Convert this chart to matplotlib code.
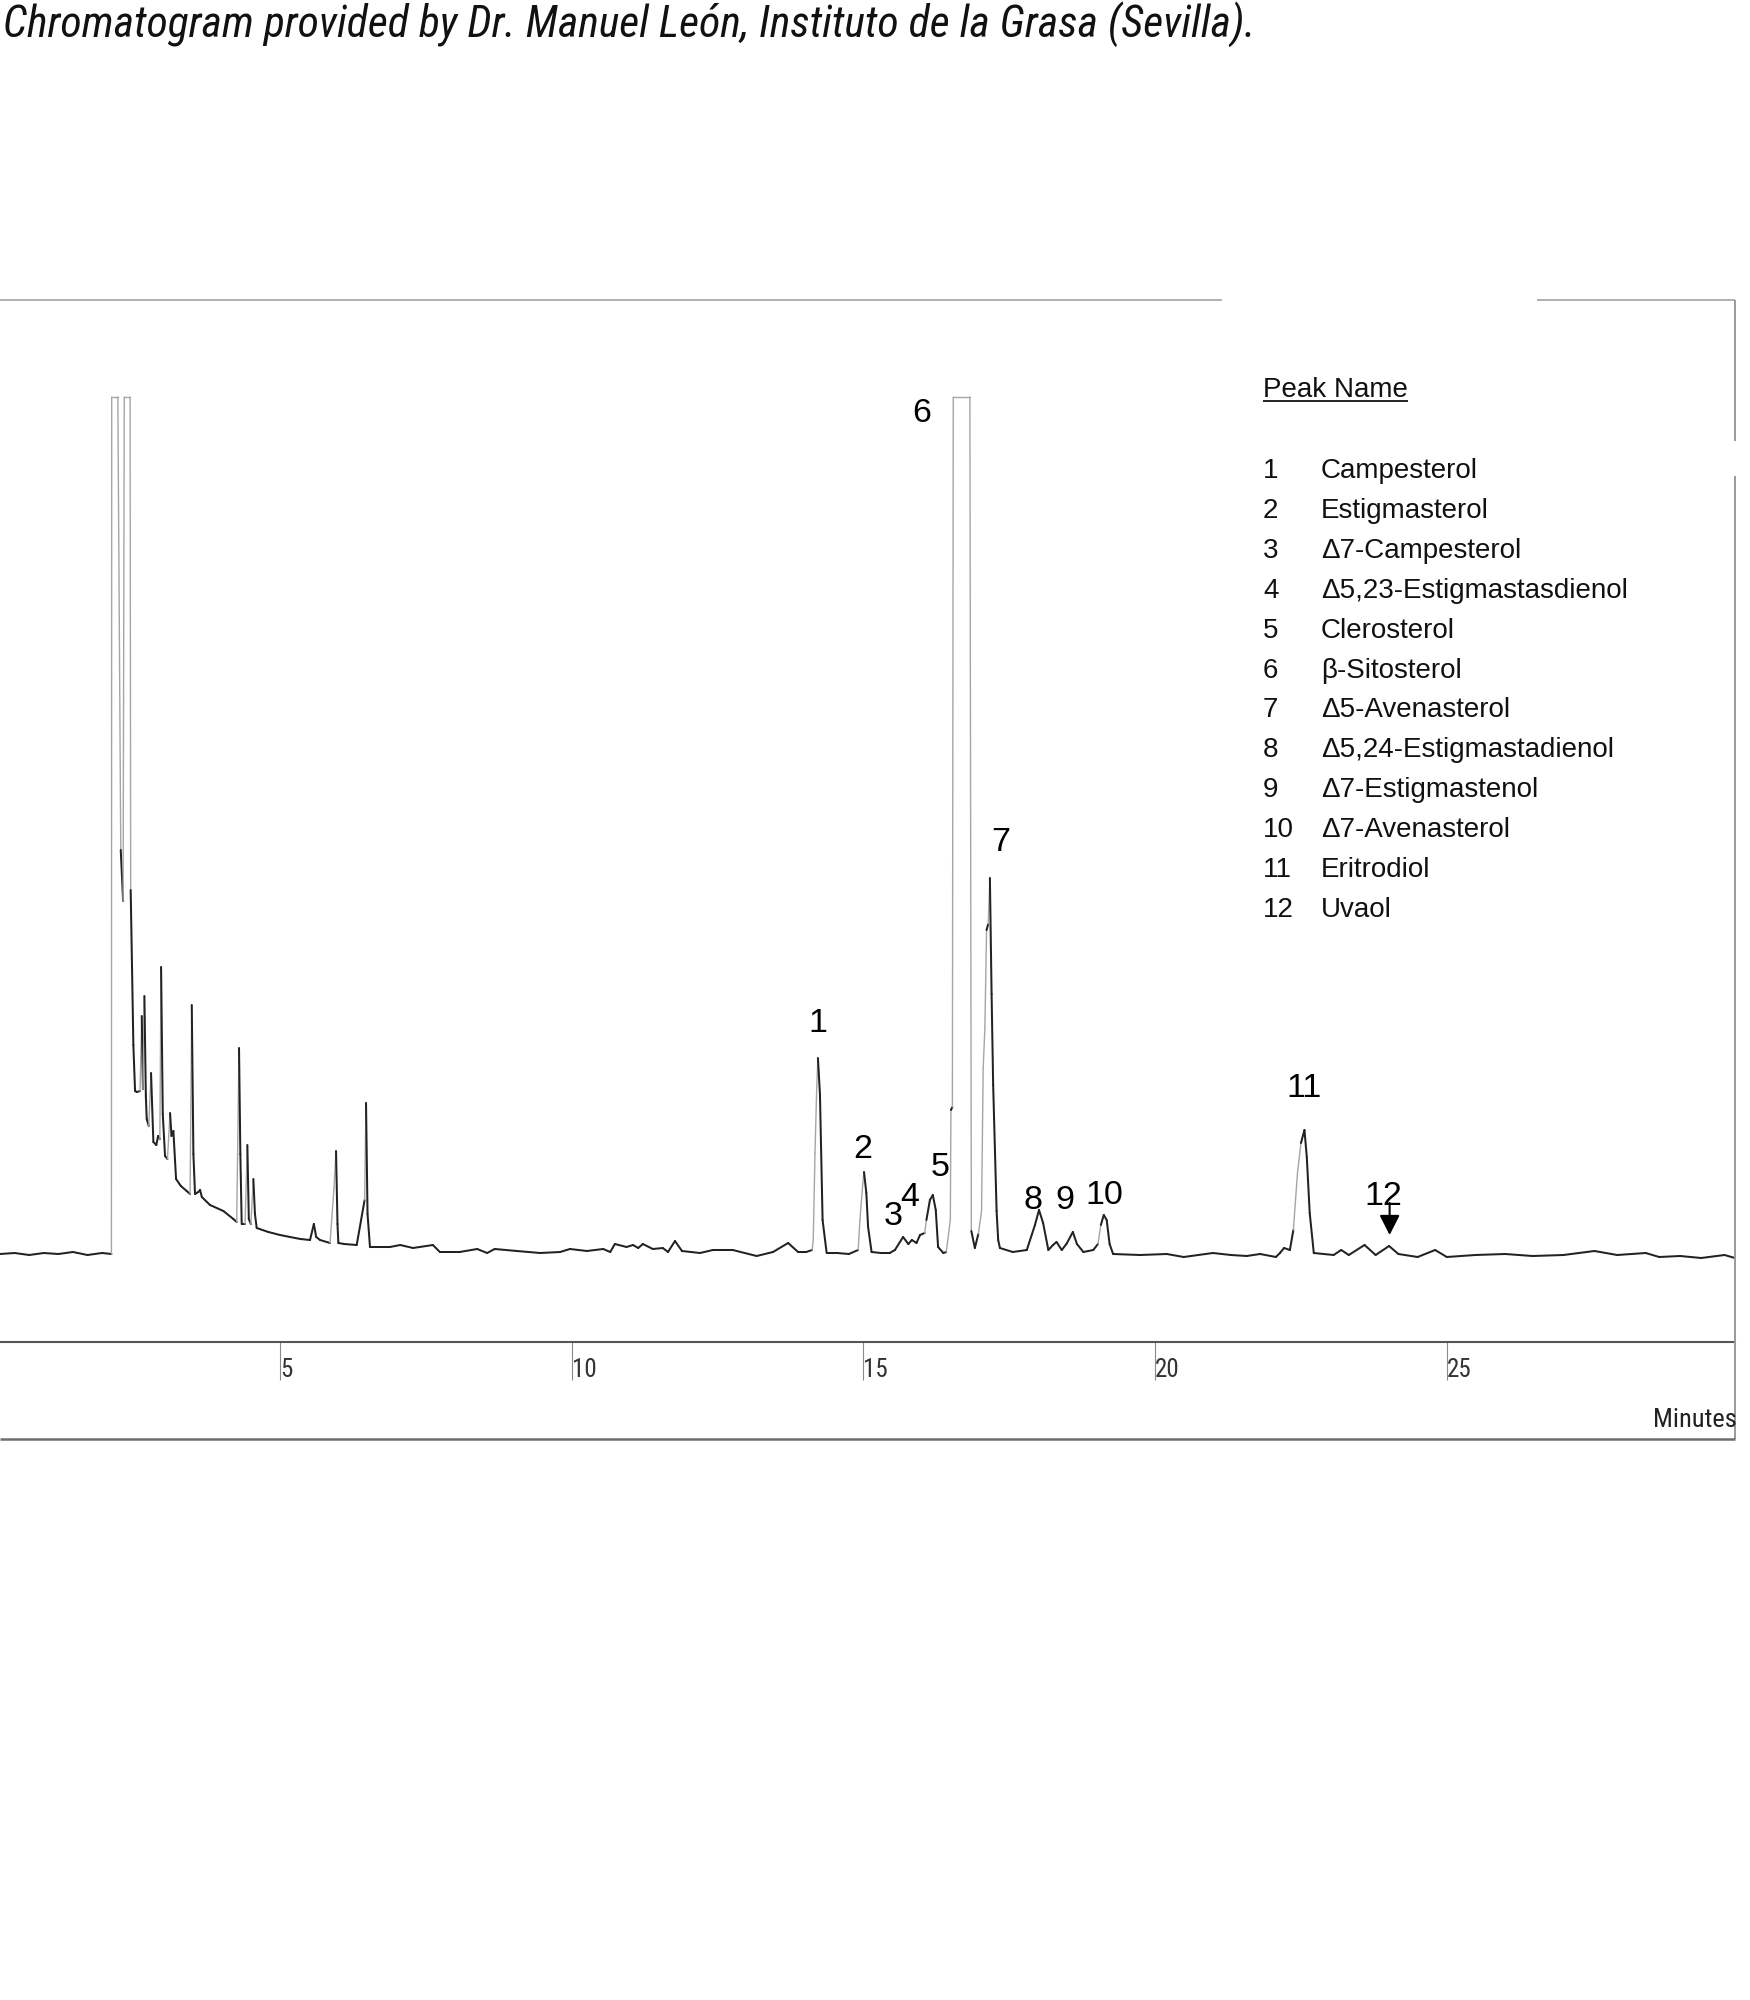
import os
import numpy as np
import matplotlib

matplotlib.use("Agg")
import matplotlib.pyplot as plt
from matplotlib import font_manager
from matplotlib.font_manager import FontProperties
from matplotlib.collections import LineCollection
from matplotlib.lines import Line2D

W, H = 1750, 2000

# trace: (retention time [min], signal [a.u., baseline = 0])
# 857 is the recorder full scale, off-scale peaks are flat-topped at it
trace_solvent = [
    (0.20, 0), (0.45, 1), (0.70, -1), (0.95, 1), (1.20, 0), (1.45, 2), (1.70, -1), (1.95, 1), (2.11, 0),
    (2.115, 857), (2.22, 857), (2.27, 404), (2.31, 353), (2.33, 857), (2.43, 857), (2.44, 364),
    (2.486, 209), (2.515, 163), (2.544, 162), (2.60, 163), (2.63, 238), (2.65, 165), (2.675, 258),
    (2.70, 158), (2.715, 135), (2.75, 128), (2.789, 181), (2.829, 112), (2.88, 109), (2.91, 118),
    (2.94, 115), (2.961, 287), (2.99, 140), (3.029, 98), (3.07, 95), (3.115, 141), (3.14, 118),
    (3.172, 123), (3.218, 75), (3.30, 68), (3.40, 63), (3.458, 60), (3.487, 249), (3.515, 100),
    (3.543, 60), (3.60, 62), (3.629, 64), (3.66, 57), (3.80, 49), (4.029, 43), (4.20, 35),
    (4.257, 32), (4.297, 206), (4.32, 100), (4.343, 30), (4.40, 30), (4.44, 109), (4.465, 35),
    (4.50, 30), (4.543, 75), (4.57, 40), (4.60, 26), (4.80, 22), (5.00, 19), (5.171, 17),
    (5.35, 15), (5.514, 14), (5.58, 30), (5.62, 17), (5.686, 14), (5.857, 11), (5.925, 66),
    (5.96, 103), (5.985, 30), (6.00, 11), (6.10, 10), (6.314, 9), (6.45, 54), (6.474, 151),
    (6.50, 40), (6.542, 7), (6.885, 7),
]

trace_sterols = [
    (7.06, 9), (7.28, 6), (7.62, 9), (7.74, 2), (8.08, 2), (8.38, 5), (8.55, 1), (8.68, 5),
    (9.06, 3), (9.46, 1), (9.80, 2), (9.97, 5), (10.26, 3), (10.54, 5), (10.66, 2), (10.74, 10),
    (10.94, 7), (11.05, 9), (11.14, 6), (11.22, 10), (11.39, 5), (11.56, 6), (11.65, 2),
    (11.77, 13), (11.89, 3), (12.20, 1), (12.42, 4), (12.76, 4), (13.17, -2), (13.45, 2),
    (13.71, 11), (13.88, 2), (14.02, 2), (14.12, 4), (14.14, 14), (14.17, 101), (14.20, 167),
    (14.22, 196), (14.255, 160), (14.30, 34), (14.37, 1), (14.55, 1), (14.75, 0), (14.91, 4),
    (14.94, 34), (14.99, 71), (15.01, 82), (15.05, 61), (15.08, 27), (15.14, 2), (15.30, 1),
    (15.45, 1), (15.54, 4), (15.68, 17), (15.77, 10), (15.83, 14), (15.91, 11), (15.97, 19),
    (16.05, 21), (16.08, 34), (16.14, 54), (16.19, 59), (16.24, 44), (16.28, 7), (16.37, 1),
    (16.42, 2), (16.49, 34), (16.50, 144), (16.525, 147), (16.54, 857), (16.825, 857),
    (16.85, 23), (16.91, 6), (16.97, 20), (17.025, 43), (17.053, 186), (17.082, 226),
    (17.111, 324), (17.139, 330), (17.168, 376), (17.197, 260), (17.224, 169), (17.283, 43),
    (17.31, 14), (17.34, 6), (17.56, 2), (17.80, 4), (17.89, 20), (17.94, 29), (18.01, 44),
    (18.08, 31), (18.17, 4), (18.25, 9), (18.31, 12), (18.40, 4), (18.48, 10), (18.59, 22),
    (18.66, 10), (18.77, 2), (18.94, 4), (19.02, 10), (19.07, 29), (19.12, 39), (19.17, 34),
    (19.22, 10), (19.28, 0),
]

trace_late = [
    (19.74, -1), (20.20, 0), (20.49, -3), (20.99, 1), (21.30, -1), (21.57, -2), (21.80, 0),
    (22.07, -3), (22.14, 1), (22.21, 6), (22.31, 4), (22.37, 24), (22.44, 81), (22.50, 111),
    (22.56, 124), (22.60, 97), (22.65, 41), (22.72, 1), (23.06, -1), (23.19, 4), (23.32, -1),
    (23.59, 9), (23.78, -1), (24.01, 8), (24.17, 0), (24.50, -3), (24.80, 4), (25.00, -3),
    (25.49, -1), (26.00, 0), (26.47, -2), (27.00, -1), (27.53, 3), (27.92, -1), (28.41, 1),
    (28.64, -3), (29.00, -2), (29.36, -4), (29.76, -1), (29.94, -4),
]

peak_numbers = ["1", "2", "3", "4", "5", "6", "7", "8", "9", "10", "11", "12"]
peak_names = [
    "Campesterol", "Estigmasterol", "Δ7-Campesterol", "Δ5,23-Estigmastasdienol",
    "Clerosterol", "β-Sitosterol", "Δ5-Avenasterol", "Δ5,24-Estigmastadienol",
    "Δ7-Estigmastenol", "Δ7-Avenasterol", "Eritrodiol", "Uvaol",
]

x_ticks = [5, 10, 15, 20, 25]
x_tick_labels = ["5", "10", "15", "20", "25"]

TITLE = "Chromatogram provided by Dr. Manuel León, Instituto de la Grasa (Sevilla)."

# where the peak numbers sit on the trace (min, signal)
label_rt = [14.22, 14.99, 15.51, 15.80, 16.31, 16.00, 17.36, 17.90, 18.45, 19.13, 22.55, 23.92]
label_sig = [222, 96, 29, 48, 78, 832, 403, 45, 45, 50, 157, 49]
uvaol_rt = 24.02  # peak 12 gets an arrow


# fonts: the printout uses a condensed grotesque for title and axis text
def find_font(patterns):
    files = {os.path.basename(f.fname).lower(): f.fname for f in font_manager.fontManager.ttflist}
    for pat in patterns:
        for base, path in files.items():
            if base.startswith(pat.lower()):
                return path
    return None


available = {f.name for f in font_manager.fontManager.ttflist}
SANS = "Liberation Sans" if "Liberation Sans" in available else "DejaVu Sans"
plt.rcParams["font.family"] = [SANS, "DejaVu Sans"]

narrow_italic = find_font([
    "LiberationSansNarrow-Italic", "NotoSans-CondensedItalic", "RobotoCondensed-Italic",
    "Roboto_Condensed-Italic", "OpenSans-CondensedItalic", "OpenSans_Condensed-Italic",
    "NotoSans-SemiCondensedItalic", "DejaVuSansCondensed-Oblique",
])
narrow_regular = find_font([
    "LiberationSansNarrow-Regular", "NotoSans-Condensed.", "RobotoCondensed-Regular",
    "Roboto_Condensed-Regular", "OpenSans-CondensedRegular", "OpenSans_Condensed-Regular",
    "NotoSans-SemiCondensed.", "DejaVuSansCondensed.",
])


def narrow_props(size, italic=False):
    path = narrow_italic if italic else narrow_regular
    if path:
        return FontProperties(fname=path, size=size)
    return FontProperties(family=SANS, size=size, style="italic" if italic else "normal")


fig = plt.figure(figsize=(W / 100, H / 100), dpi=100)
ax = fig.add_axes([0, (H - 1342) / H, 1735 / W, (1342 - 300) / H])
ax.set_xlim(0.20, 29.94)
ax.set_ylim(-88, 954)

trace = np.array(trace_solvent + trace_sterols + trace_late, dtype=float)
sig = trace[:, 1]
segs = np.stack([trace[:-1], trace[1:]], axis=1)

# fast pen moves (steep rises, off-scale edges) print faint on the recorder
d = np.diff(ax.transData.transform(trace), axis=0)
faint = ((d[:, 1] > 0) & (d[:, 1] > 6 * np.abs(d[:, 0]))) | (np.abs(d[:, 1]) > 300)
faint |= (sig[:-1] >= 857) & (sig[1:] >= 857)
lc = LineCollection(
    segs,
    colors=["#a5a5a5" if f else "#222222" for f in faint],
    linewidths=[1.0 if f else 1.45 for f in faint],
    capstyle="round",
)
ax.add_collection(lc)

for num, rt, s in zip(peak_numbers, label_rt, label_sig):
    ax.text(rt, s, num, ha="center", va="baseline", fontsize=24.5, color="#000000")

ax.annotate(
    "",
    xy=(uvaol_rt, 19),
    xytext=(uvaol_rt, 51),
    arrowprops=dict(
        arrowstyle="-|>,head_length=0.55,head_width=0.28",
        mutation_scale=22,
        lw=1.5,
        color="#000000",
        shrinkA=0,
        shrinkB=0,
    ),
)

# axis styling, only the time axis is shown
for side in ["left", "right", "top"]:
    ax.spines[side].set_visible(False)
ax.spines["bottom"].set_color("#555555")
ax.spines["bottom"].set_linewidth(1.5)
ax.set_yticks([])
ax.set_xticks(x_ticks, labels=x_tick_labels)
ax.tick_params(
    axis="x",
    direction="out",
    length=27.4,
    width=0.8,
    color="#8a8a8a",
    pad=-16,
    labelcolor="#333333",
)
for lab in ax.get_xticklabels():
    lab.set_horizontalalignment("left")
    lab.set_fontproperties(narrow_props(18))
ax.patch.set_visible(False)


def frame_line(x0, y0, x1, y1, color, lw):
    # pixel coords from the top-left corner of the page
    fig.add_artist(
        Line2D([x0 / W, x1 / W], [1 - y0 / H, 1 - y1 / H], transform=fig.transFigure,
               color=color, lw=lw, solid_capstyle="butt")
    )


frame_line(0, 300, 1222, 300, "#9a9a9a", 1.1)
frame_line(1537, 300, 1735, 300, "#9a9a9a", 1.1)
frame_line(1735, 300, 1735, 441, "#9a9a9a", 1.4)
frame_line(1735, 476, 1735, 1439, "#9a9a9a", 1.4)
frame_line(0, 1439, 1735, 1439, "#6e6e6e", 1.8)

fig.text(1737 / W, 1 - 1427 / H, "Minutes", ha="right", va="baseline",
         fontproperties=narrow_props(19), color="#222222")

# peak table
head = fig.text(1263 / W, 1 - 397 / H, "Peak Name", fontsize=20, ha="left", va="baseline", color="#111111")
for i, (num, name) in enumerate(zip(peak_numbers, peak_names)):
    yb = 478 + 39.9 * i
    fig.text(1263 / W, 1 - yb / H, num, fontsize=20, ha="left", va="baseline", color="#111111")
    fig.text(1321 / W, 1 - yb / H, name, fontsize=20, ha="left", va="baseline", color="#111111")

title = fig.text(3 / W, 1 - 37 / H, TITLE, ha="left", va="baseline",
                 fontproperties=narrow_props(30, italic=True), color="#111111")

fig.canvas.draw()
tw = title.get_window_extent().width
title.set_fontsize(30 * 1252 / tw)

hb = head.get_window_extent()
frame_line(hb.x0, 401, hb.x1, 401, "#111111", 1.3)

fig.savefig("out.png", dpi=100)
